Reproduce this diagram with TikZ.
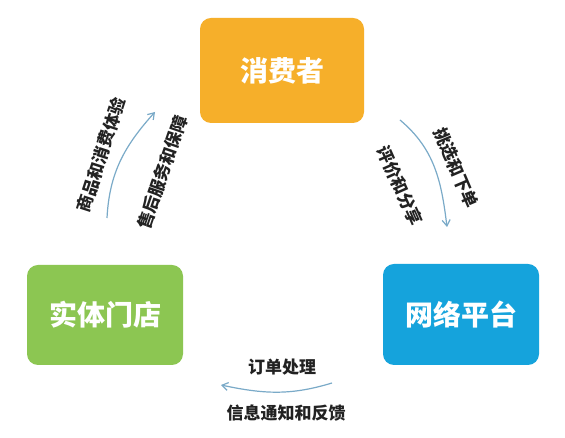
\documentclass[tikz,border=0pt]{standalone}
\usepackage{fontspec}
\setmainfont{Noto Sans CJK SC}
\usetikzlibrary{arrows.meta}
\definecolor{cOrange}{HTML}{F6AF2A}
\definecolor{cGreen}{HTML}{8CC652}
\definecolor{cBlue}{HTML}{15A3DC}
\definecolor{cArrow}{HTML}{7AAAC8}
\definecolor{cText}{HTML}{222222}
\tikzset{
  box/.style={rounded corners=11pt, text=white, font=\fontsize{28}{28}\selectfont\bfseries, inner sep=0pt},
  lbl/.style={text=cText, font=\fontsize{17}{17}\selectfont\bfseries, inner sep=0pt},
  conn/.style={draw=cArrow, line width=1.2pt, -{Straight Barb[length=6pt,width=8pt]}}
}
\begin{document}
\begin{tikzpicture}[x=1pt,y=1pt]
\useasboundingbox[fill=white] (0,0) rectangle (565,438);
\node[box, fill=cOrange, minimum width=164pt, minimum height=105pt] (cons) at (282,367.5) {消费者};
\node[box, fill=cGreen, minimum width=156pt, minimum height=100pt] (store) at (105,123) {实体门店};
\node[box, fill=cBlue, minimum width=156pt, minimum height=101pt] (net) at (461,123.5) {网络平台};
\coordinate (la) at (107,220);
\coordinate (lb) at (155,326);
\coordinate (ra) at (400,318);
\coordinate (rb) at (447,211);
\coordinate (ba) at (332,55);
\coordinate (bb) at (221,53);
\draw[conn] (la) to[out=87,in=228] (lb);
\draw[conn] (ra) to[out=-40,in=97] (rb);
\draw[conn] (ba) to[out=197,in=-12] (bb);
\node[lbl, rotate=72] (l1) at (101,283) {商品和消费体验};
\node[lbl, rotate=71] (l2) at (162.5,265.5) {售后服务和保障};
\node[lbl, rotate=-67] (r1) at (456,270) {挑选和下单};
\node[lbl, rotate=-66] (r2) at (400,252) {评价和分享};
\node[lbl] (b1) at (282,71) {订单处理};
\node[lbl] (b2) at (286,25) {信息通知和反馈};
\end{tikzpicture}
\end{document}
